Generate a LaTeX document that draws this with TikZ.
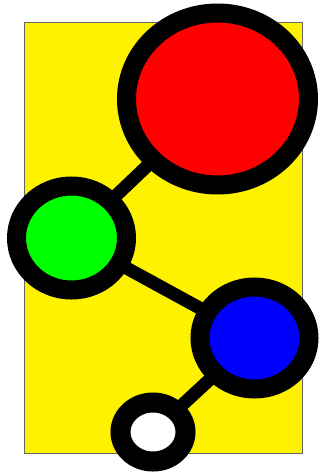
\documentclass[tikz,border=0pt]{standalone}
\usetikzlibrary{shapes.geometric}
\pgfdeclarelayer{back}
\pgfdeclarelayer{mid}
\pgfsetlayers{back,mid,main}
\definecolor{ringblack}{RGB}{0,0,0}
\tikzset{
  ball/.style={ellipse, draw=ringblack, line width=19pt, inner sep=0pt},
  link/.style={draw=ringblack, line width=13pt},
  panel/.style={fill=yellow, draw=black!60, line width=1pt}
}
\begin{document}
\begin{tikzpicture}[x=1pt,y=-1pt]
\useasboundingbox (0,0) rectangle (320,474);
\node[ball, fill=red, minimum width=182pt, minimum height=172pt] (r) at (217.5,99) {};
\node[ball, fill=green, minimum width=110pt, minimum height=104pt] (g) at (71.5,238) {};
\node[ball, fill=blue, minimum width=109pt, minimum height=102pt] (b) at (254.5,338) {};
\node[ball, fill=white, line width=20pt, minimum width=65pt, minimum height=59pt] (w) at (153,432) {};
\begin{pgfonlayer}{back}
\draw[panel] (24,22) rectangle (302,453);
\end{pgfonlayer}
\begin{pgfonlayer}{mid}
\draw[link] (r.center) -- (g.center);
\draw[link] (g.center) -- (b.center);
\draw[link] (b.center) -- (w.center);
\end{pgfonlayer}
\end{tikzpicture}
\end{document}
